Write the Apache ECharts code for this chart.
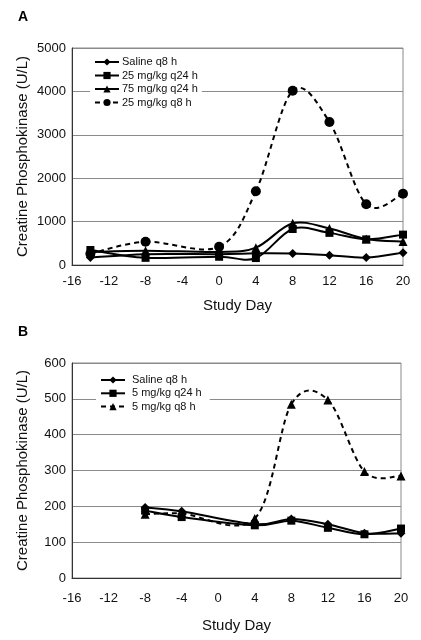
<!DOCTYPE html>
<html><head><meta charset="utf-8">
<script src="https://cdn.jsdelivr.net/npm/echarts@6/dist/echarts.min.js"></script>
<style>html,body{margin:0;padding:0;background:#fff;}#c{width:421px;height:640px;}</style>
</head><body><div id="c"></div>
<script>
// Panel A
const daysA = [-14, -8, 0, 4, 8, 12, 16, 20];
const salineA = [170, 250, 250, 270, 265, 225, 170, 285];
const mg25q24A = [345, 165, 190, 160, 830, 740, 590, 700];
const mg75q24A = [300, 330, 300, 400, 960, 840, 600, 540];
const mg25q8A = [260, 535, 420, 1700, 4015, 3295, 1400, 1640];
const yTicksA = [0, 1000, 2000, 3000, 4000, 5000];
// Panel B
const daysB = [-8, -4, 4, 8, 12, 16, 20];
const salineB = [197, 186, 150, 165, 150, 125, 125];
const mg5q24B = [188, 170, 147, 160, 140, 122, 138];
const mg5q8B = [178, 180, 166, 485, 497, 297, 285];
const yTicksB = [0, 100, 200, 300, 400, 500, 600];
const xTicks = [-16, -12, -8, -4, 0, 4, 8, 12, 16, 20];

const FONT = 'Liberation Sans, Arial, sans-serif';
const DASH = [5, 4];
const pts = (xs, ys) => xs.map((x, i) => [x, ys[i]]);

function xAx(gi, margin, gap) {
  return {
    type: 'value', gridIndex: gi, min: xTicks[0], max: xTicks[xTicks.length - 1], interval: 4,
    name: 'Study Day', nameLocation: 'middle', nameGap: gap,
    nameTextStyle: { fontFamily: FONT, fontSize: 15, color: '#111' },
    axisLine: { show: true, onZero: false, lineStyle: { color: '#333', width: 1 } },
    axisTick: { show: false },
    axisLabel: { fontFamily: FONT, fontSize: 13, color: '#111', margin: margin },
    splitLine: { show: false }
  };
}
function yAx(gi, ticks) {
  return {
    type: 'value', gridIndex: gi, min: ticks[0], max: ticks[ticks.length - 1], interval: ticks[1] - ticks[0],
    name: 'Creatine Phosphokinase (U/L)', nameLocation: 'middle', nameGap: 42, nameMoveOverlap: false,
    nameTextStyle: { fontFamily: FONT, fontSize: 15, color: '#111' },
    axisLine: { show: true, onZero: false, lineStyle: { color: '#333', width: 1 } },
    axisTick: { show: false },
    axisLabel: { fontFamily: FONT, fontSize: 13, color: '#111', margin: 6, formatter: v => String(v) },
    splitLine: { show: true, lineStyle: { color: '#8a8a8a', width: 1 } }
  };
}
// markers (line hidden; the smooth curve is drawn by a custom series below)
function marks(name, gi, xs, ys, symbol, size) {
  return {
    type: 'line', name: name, xAxisIndex: gi, yAxisIndex: gi,
    data: pts(xs, ys), symbol: symbol, symbolSize: size,
    itemStyle: { color: '#000' },
    lineStyle: { color: '#000', width: 2, opacity: 0 },
    z: 4
  };
}
// Catmull-Rom smoothed curve through the data, via the axes' scales
function curve(gi, xs, ys, dashed) {
  const n = xs.length;
  return {
    type: 'custom', xAxisIndex: gi, yAxisIndex: gi, silent: true, z: 3,
    data: pts(xs, ys).slice(0, n - 1),
    renderItem: function (params, api) {
      const i = params.dataIndex;
      const P = k => api.coord([xs[k], ys[k]]);
      const p0 = P(Math.max(i - 1, 0)), p1 = P(i), p2 = P(i + 1), p3 = P(Math.min(i + 2, n - 1));
      return {
        type: 'bezierCurve',
        shape: {
          x1: p1[0], y1: p1[1], x2: p2[0], y2: p2[1],
          cpx1: p1[0] + (p2[0] - p0[0]) / 6, cpy1: p1[1] + (p2[1] - p0[1]) / 6,
          cpx2: p2[0] - (p3[0] - p1[0]) / 6, cpy2: p2[1] - (p3[1] - p1[1]) / 6
        },
        style: { stroke: '#000', lineWidth: 2, fill: null, lineDash: dashed ? DASH : null }
      };
    }
  };
}
const solidLS = { color: '#000', width: 2, type: 'solid', opacity: 1 };
const dashLS = { color: '#000', width: 2, type: DASH, opacity: 1 };
const legText = { fontFamily: FONT, fontSize: 11, color: '#111', lineHeight: 12 };

const chart = echarts.init(document.getElementById('c'), null, { renderer: 'canvas' });
chart.setOption({
  animation: false,
  backgroundColor: '#fff',
  title: [
    { text: 'A', left: 13, top: 5, textStyle: { fontFamily: FONT, fontSize: 14, fontWeight: 'bold', color: '#000' } },
    { text: 'B', left: 13, top: 320, textStyle: { fontFamily: FONT, fontSize: 14, fontWeight: 'bold', color: '#000' } }
  ],
  grid: [
    { left: 72, top: 48, width: 331, height: 217, show: true, borderColor: '#8a8a8a', borderWidth: 1, backgroundColor: 'transparent' },
    { left: 72, top: 363, width: 329, height: 215, show: true, borderColor: '#8a8a8a', borderWidth: 1, backgroundColor: 'transparent' }
  ],
  xAxis: [xAx(0, 10, 33), xAx(1, 14, 40)],
  yAxis: [yAx(0, yTicksA), yAx(1, yTicksB)],
  legend: [
    {
      data: [
        { name: 'Saline q8 h', lineStyle: solidLS },
        { name: '25 mg/kg q24 h', lineStyle: solidLS },
        { name: '75 mg/kg q24 h', lineStyle: solidLS },
        { name: '25 mg/kg q8 h', lineStyle: dashLS }
      ],
      orient: 'vertical', left: 90, top: 54, itemGap: 1.5, itemWidth: 24, itemHeight: 9,
      backgroundColor: '#fff', padding: [2, 4, 2, 4],
      textStyle: Object.assign({ padding: [0, 0, 0, -2] }, legText),
      selectedMode: false
    },
    {
      data: [
        { name: 'Saline q8 h', lineStyle: solidLS },
        { name: '5 mg/kg q24 h', lineStyle: solidLS },
        { name: '5 mg/kg q8 h', lineStyle: dashLS }
      ],
      orient: 'vertical', left: 96, top: 372, itemGap: 1.3, itemWidth: 24, itemHeight: 9,
      backgroundColor: '#fff', padding: [2, 8, 2, 4],
      textStyle: Object.assign({ padding: [0, 0, 0, 2] }, legText),
      selectedMode: false
    }
  ],
  series: [
    marks('Saline q8 h', 0, daysA, salineA, 'diamond', 9),
    marks('25 mg/kg q24 h', 0, daysA, mg25q24A, 'rect', 8),
    marks('75 mg/kg q24 h', 0, daysA, mg75q24A, 'triangle', 9),
    marks('25 mg/kg q8 h', 0, daysA, mg25q8A, 'circle', 10),
    curve(0, daysA, salineA, false),
    curve(0, daysA, mg25q24A, false),
    curve(0, daysA, mg75q24A, false),
    curve(0, daysA, mg25q8A, true),
    marks('Saline q8 h', 1, daysB, salineB, 'diamond', 9),
    marks('5 mg/kg q24 h', 1, daysB, mg5q24B, 'rect', 8),
    marks('5 mg/kg q8 h', 1, daysB, mg5q8B, 'triangle', 9),
    curve(1, daysB, salineB, false),
    curve(1, daysB, mg5q24B, false),
    curve(1, daysB, mg5q8B, true)
  ]
});
</script></body></html>
